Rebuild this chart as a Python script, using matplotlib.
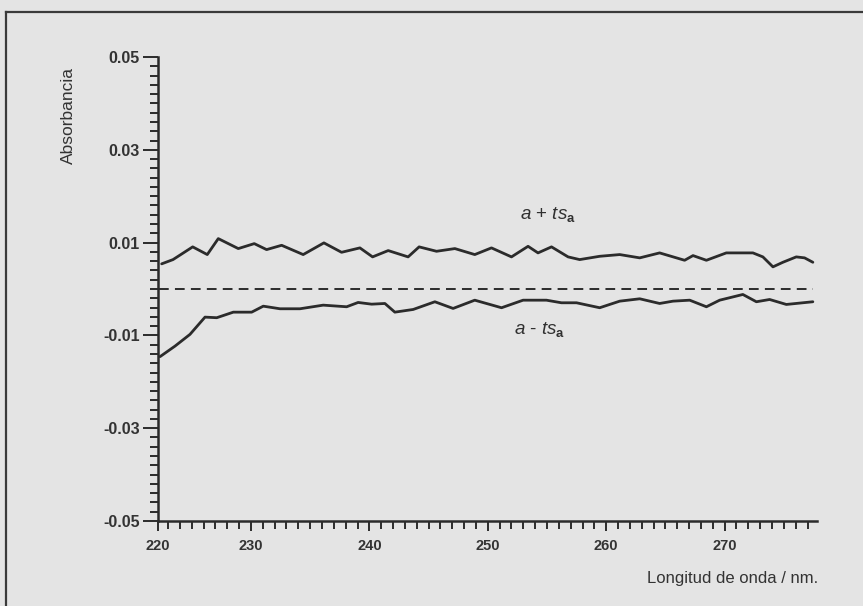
import matplotlib
matplotlib.use("Agg")
import matplotlib.pyplot as plt
from matplotlib.lines import Line2D
from matplotlib.ticker import MultipleLocator, FixedLocator, FixedFormatter

plt.rcParams['font.family'] = ['Liberation Sans', 'DejaVu Sans']
plt.rcParams['mathtext.fontset'] = 'custom'
plt.rcParams['mathtext.rm'] = 'Liberation Sans'
plt.rcParams['mathtext.it'] = 'Liberation Sans:italic'
plt.rcParams['mathtext.bf'] = 'Liberation Sans:bold'

# Upper confidence limit  a + t*s_a
upper_nm = [222.46, 223.42, 225.08, 226.31, 227.24, 228.93, 230.28, 231.32, 232.59, 234.41,
            236.16, 237.65, 239.20, 240.27, 241.59, 243.27, 244.20, 245.67, 247.22, 248.90,
            250.31, 252.00, 253.40, 254.24, 255.38, 256.78, 257.76, 259.45, 261.14, 262.83,
            264.51, 266.62, 267.33, 268.46, 270.14, 272.39, 273.23, 274.08, 274.92, 276.05,
            276.75, 277.45]
upper_abs = [0.00542, 0.00634, 0.00908, 0.00742, 0.01086, 0.00871, 0.00978, 0.00849, 0.00942, 0.00742,
             0.00994, 0.00791, 0.00886, 0.00692, 0.00828, 0.00692, 0.00908, 0.00813, 0.00871, 0.00742,
             0.00886, 0.00692, 0.00920, 0.00778, 0.00908, 0.00692, 0.00634, 0.00705, 0.00742, 0.00671,
             0.00778, 0.00619, 0.00720, 0.00619, 0.00778, 0.00778, 0.00692, 0.00477, 0.00576, 0.00692,
             0.00671, 0.00576]

# Lower confidence limit  a - t*s_a
lower_nm = [222.32, 223.59, 224.85, 226.12, 227.11, 228.51, 230.06, 231.04, 232.45, 234.14,
            236.10, 238.08, 239.05, 240.19, 241.31, 242.15, 243.70, 245.53, 247.07, 248.90,
            251.16, 252.98, 254.95, 256.22, 257.49, 259.45, 261.14, 262.83, 264.51, 265.64,
            267.05, 268.46, 269.58, 271.54, 272.68, 273.80, 275.21, 277.45]
lower_abs = [-0.01458, -0.01230, -0.00978, -0.00606, -0.00619, -0.00499, -0.00499, -0.00370, -0.00426, -0.00426,
             -0.00348, -0.00383, -0.00290, -0.00327, -0.00312, -0.00499, -0.00441, -0.00275, -0.00419, -0.00241,
             -0.00404, -0.00241, -0.00241, -0.00297, -0.00297, -0.00404, -0.00262, -0.00211, -0.00312, -0.00262,
             -0.00241, -0.00383, -0.00241, -0.00118, -0.00275, -0.00226, -0.00333, -0.00275]

# Zero reference line
zero_nm = [222.2, 277.5]
zero_abs = [0.0, 0.0]

x_range = [222.15, 277.8]
x_major = [222.15, 230, 240, 250, 260, 270]
x_tick_labels = ["220", "230", "240", "250", "260", "270"]
y_major = [0.05, 0.03, 0.01, -0.01, -0.03, -0.05]
y_tick_labels = ["0.05", "0.03", "0.01", "-0.01", "-0.03", "-0.05"]

ink = '#2b2b2b'
bg = '#e4e4e4'

fig = plt.figure(figsize=(8.63, 6.06), dpi=100, facecolor=bg)
ax = fig.add_axes([158 / 863, 1 - 521 / 606, (817 - 158) / 863, (521 - 57) / 606])
ax.set_facecolor(bg)

ax.plot(upper_nm, upper_abs, color=ink, lw=2.0, solid_joinstyle='round', solid_capstyle='round')
ax.plot(lower_nm, lower_abs, color=ink, lw=2.0, solid_joinstyle='round', solid_capstyle='round')
ax.plot(zero_nm, zero_abs, color=ink, lw=1.4, dashes=(5, 3.2))

ax.set_xlim(*x_range)
ax.set_ylim(-0.05, 0.05)

for side in ('top', 'right'):
    ax.spines[side].set_visible(False)
for side in ('left', 'bottom'):
    ax.spines[side].set_color(ink)
    ax.spines[side].set_linewidth(1.8)

ax.xaxis.set_major_locator(FixedLocator(x_major))
ax.xaxis.set_major_formatter(FixedFormatter(x_tick_labels))
ax.xaxis.set_minor_locator(FixedLocator(list(range(223, 278))))
ax.yaxis.set_major_locator(FixedLocator(y_major))
ax.yaxis.set_major_formatter(FixedFormatter(y_tick_labels))
ax.yaxis.set_minor_locator(MultipleLocator(0.002))

ax.tick_params(axis='y', which='major', direction='out', length=11, width=1.4, color=ink,
               labelsize=11.5, pad=2)
ax.tick_params(axis='y', which='minor', direction='out', length=5.5, width=1.4, color=ink)
ax.tick_params(axis='x', which='major', direction='out', length=7, width=1.4, color=ink,
               labelsize=10.5, pad=6)
ax.tick_params(axis='x', which='minor', direction='out', length=5.5, width=1.4, color=ink)
for lab in ax.get_xticklabels() + ax.get_yticklabels():
    lab.set_fontweight('bold')
    lab.set_color('#333333')

ax.text(255.1, 0.0160, r'$\mathit{a}$ + $\mathit{ts}_{\mathbf{a}}$', ha='center', va='center',
        fontsize=13.5, color='#303030')
ax.text(254.4, -0.0088, r'$\mathit{a}$ - $\mathit{ts}_{\mathbf{a}}$', ha='center', va='center',
        fontsize=13.5, color='#303030')

fig.text(68 / 863, 1 - 115 / 606, 'Absorbancia', rotation=90, ha='center', va='center',
         fontsize=12.5, color='#333333')
fig.text(818 / 863, 1 - 578 / 606, 'Longitud de onda / nm.', ha='right', va='center',
         fontsize=12, color='#333333')

# Outer frame (top and left edges)
fig.add_artist(Line2D([6 / 863, 1.0], [1 - 12 / 606, 1 - 12 / 606], transform=fig.transFigure,
                      color='#3a3a3a', lw=1.6))
fig.add_artist(Line2D([6 / 863, 6 / 863], [1 - 12 / 606, 0.0], transform=fig.transFigure,
                      color='#3a3a3a', lw=1.6))

fig.savefig('out.png', dpi=100, facecolor=bg)
